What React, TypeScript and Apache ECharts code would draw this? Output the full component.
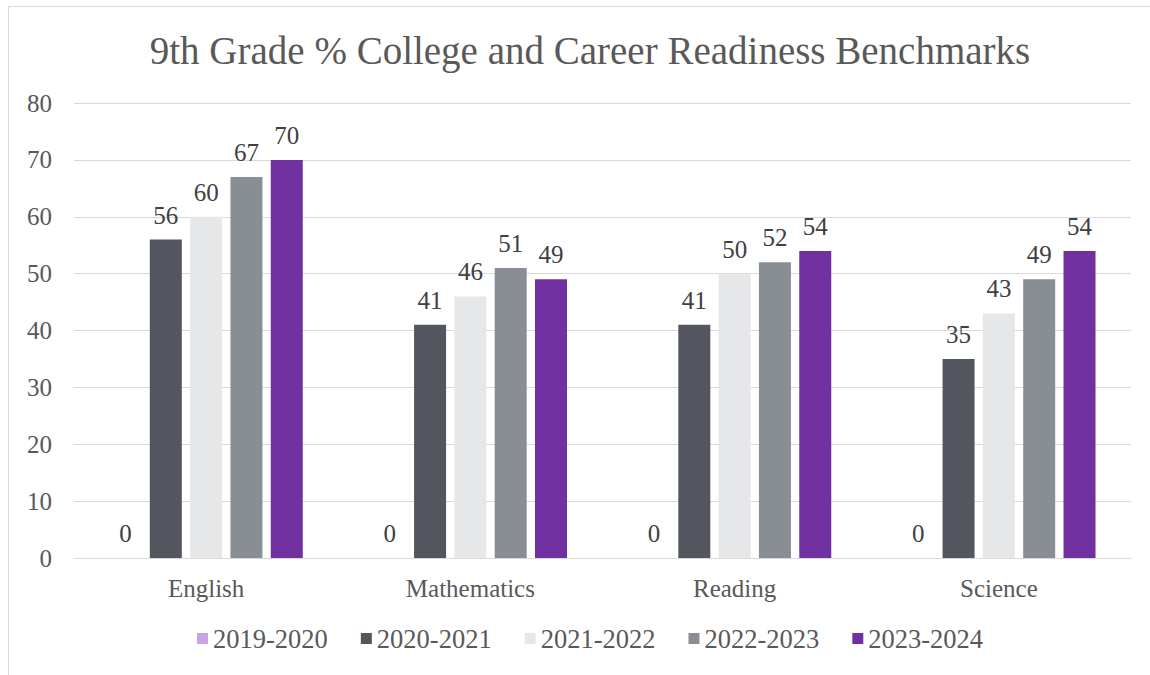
import React, { useEffect, useRef } from "react";
import * as echarts from "echarts";

const categories = ["English", "Mathematics", "Reading", "Science"];
const seriesNames = ["2019-2020", "2020-2021", "2021-2022", "2022-2023", "2023-2024"];
const v2019 = [0, 0, 0, 0];
const v2020 = [56, 41, 41, 35];
const v2021 = [60, 46, 50, 43];
const v2022 = [67, 51, 52, 49];
const v2023 = [70, 49, 54, 54];
const colors = ["#c9a3e1", "#53565e", "#e6e7e8", "#898e94", "#7030a0"];
const yTicks = [0, 10, 20, 30, 40, 50, 60, 70, 80];

const FONT = "Liberation Serif";

export default function App() {
  const ref = useRef<HTMLDivElement>(null);
  useEffect(() => {
    document.body.style.margin = "0";
    const chart = echarts.init(ref.current!, null, { renderer: "svg" });
    const values = [v2019, v2020, v2021, v2022, v2023];
    chart.setOption({
      animation: false,
      backgroundColor: "#ffffff",
      title: {
        text: "9th Grade % College and Career Readiness Benchmarks",
        left: 585,
        textAlign: "center",
        top: 26,
        textStyle: { fontFamily: FONT, fontSize: 39, fontWeight: "normal", color: "#595959" },
      },
      graphic: [
        {
          type: "rect",
          shape: { x: 8.5, y: 6.5, width: 1300, height: 800 },
          style: { fill: "none", stroke: "#d9d9d9", lineWidth: 1 },
          silent: true,
        },
      ],
      legend: {
        bottom: 18,
        left: 192,
        icon: "rect",
        itemWidth: 11,
        itemHeight: 11,
        itemGap: 33,
        data: seriesNames,
        textStyle: { fontFamily: FONT, fontSize: 26.5, color: "#595959" },
      },
      grid: { left: 74, right: 19, top: 103, bottom: 117 },
      xAxis: {
        type: "category",
        data: categories,
        axisLine: { lineStyle: { color: "#d9d9d9" } },
        axisTick: { show: false },
        axisLabel: { fontFamily: FONT, fontSize: 25, color: "#595959", margin: 18 },
      },
      yAxis: {
        type: "value",
        min: yTicks[0],
        max: yTicks[yTicks.length - 1],
        interval: 10,
        axisLine: { show: false },
        axisTick: { show: false },
        splitLine: { lineStyle: { color: "#d9d9d9" } },
        axisLabel: { fontFamily: FONT, fontSize: 25, color: "#595959", margin: 22 },
      },
      series: seriesNames.map((name, i) => ({
        name,
        type: "bar",
        data: values[i],
        barWidth: 32,
        barGap: "26%",
        itemStyle: { color: colors[i] },
        label: {
          show: true,
          position: "top",
          distance: 12,
          fontFamily: FONT,
          fontSize: 25,
          color: "#404040",
        },
      })),
    });
    return () => chart.dispose();
  }, []);
  return <div ref={ref} style={{ width: 1150, height: 675 }} />;
}
